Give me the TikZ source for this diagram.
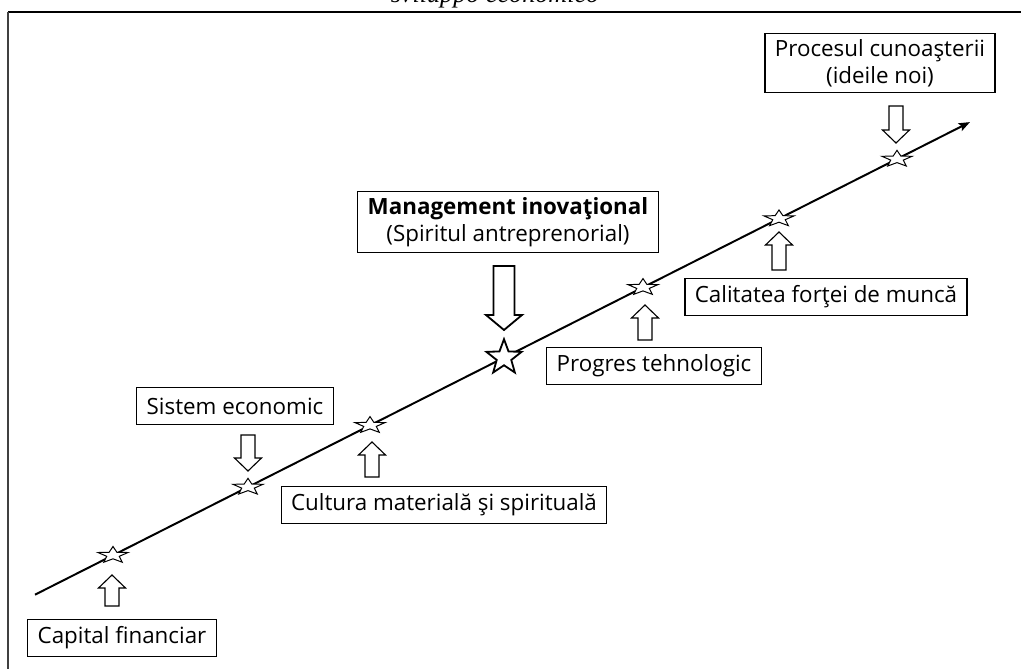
\documentclass[tikz,border=0pt]{standalone}
\usepackage{fontspec}
\setmainfont{Open Sans}
\newfontfamily\titlefont{Liberation Serif}
\usetikzlibrary{arrows.meta,shapes.geometric}

% hollow block arrow: [style] x, tip y, tail y, half shaft, half head, signed head length
\newcommand{\blockarr}[7][]{%
  \draw[blk, #1] (#2-#5,#4) -- (#2-#5,#3+#7) -- (#2-#6,#3+#7) -- (#2,#3)
    -- (#2+#6,#3+#7) -- (#2+#5,#3+#7) -- (#2+#5,#4) -- cycle;}

\begin{document}
\begin{tikzpicture}[
        x=0.025cm, y=-0.025cm,
        font=\fontsize{15.9}{19.5}\selectfont,
        lbl/.style={draw, line width=0.8pt, align=center, inner xsep=7pt,
                    inner ysep=4pt, minimum height=26pt},
        knot/.style={star, star points=5, star point ratio=2.4, draw, fill=white,
                     line width=0.7pt, inner sep=0pt, minimum size=0.79cm, yscale=0.55},
        bigknot/.style={star, star points=5, star point ratio=2.4, draw, fill=white,
                        line width=1.3pt, inner sep=0pt, minimum size=0.92cm},
        blk/.style={draw, fill=white, line width=0.8pt, line join=miter},
        axis/.style={line width=1.4pt, -{Stealth[length=8pt, width=6pt, inset=1.5pt]}}
      ]
        \useasboundingbox (0,0) rectangle (1021,669);
        % frame (only top and left edges fall inside the page)
        \draw[line width=1.4pt] (1100,12) -- (8,12);
        \draw[line width=1pt, black!75] (8,12) -- (8,700);
        \node[font=\titlefont\itshape\fontsize{18.6}{20}\selectfont, anchor=base, inner sep=0pt]
              (ttl) at (495,3) {sviluppo economico};
        % growth line
        \coordinate (lstart) at (35,594.7);
        \coordinate (ltip) at (970,122.1);
        \draw[axis] (lstart) -- (ltip);
        % stars on the line
        \node[knot]    (k1) at (113,555.2) {};
        \node[knot]    (k2) at (248,487) {};
        \node[knot]    (k3) at (370,425.3) {};
        \node[bigknot] (k4) at (504,357.6) {};
        \node[knot]    (k5) at (643,287.3) {};
        \node[knot]    (k6) at (779,218.6) {};
        \node[knot]    (k7) at (897,159) {};
        % factor boxes
        \node[lbl] (capit) at (122,638) {Capital financiar};
        \node[lbl] (sist)  at (235,406) {Sistem economic};
        \node[lbl] (cult)  at (444,505) {Cultura material\u{a} \c{s}i spiritual\u{a}};
        \node[lbl] (mgmt)  at (508,222) {\textbf{Management inova\c{t}ional}\\(Spiritul antreprenorial)};
        \node[lbl] (progr) at (654,366) {Progres tehnologic};
        \node[lbl] (calit) at (826,297) {Calitatea for\c{t}ei de munc\u{a}};
        \node[lbl] (proc)  at (880,63)  {Procesul cunoa\c{s}terii\\(ideile noi)};
        % block arrows pointing at the stars
        \blockarr{112}{575}{606}{7}{13.5}{13}
        \blockarr{248}{471}{435}{7}{13.5}{-13}
        \blockarr{372}{442}{477}{7}{13.5}{13}
        \blockarr[line width=1.3pt]{504}{330}{266}{10.5}{18}{-15}
        \blockarr{645}{305}{340}{7}{13.5}{13}
        \blockarr{779}{232}{270}{7}{13.5}{13}
        \blockarr{896}{143}{106}{7}{13.5}{-13}
      \end{tikzpicture}
\end{document}
